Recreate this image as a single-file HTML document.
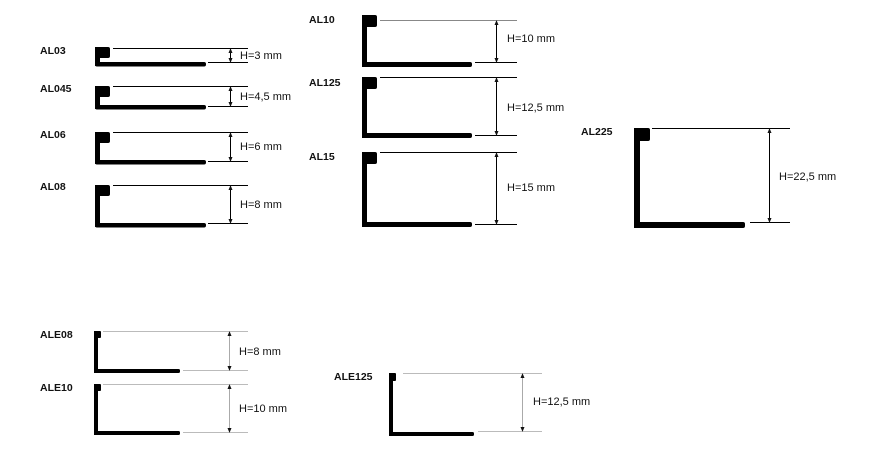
<!DOCTYPE html>
<html><head><meta charset="utf-8"><style>
html,body{margin:0;padding:0;background:#fff;width:873px;height:463px;overflow:hidden}
svg{display:block}
.n{font-family:"Liberation Sans",sans-serif;font-weight:bold;font-size:10.5px;fill:#111}
.l{font-family:"Liberation Sans",sans-serif;font-size:11px;fill:#111}
</style></head><body>
<svg width="873" height="463" viewBox="0 0 873 463" xmlns="http://www.w3.org/2000/svg">
<defs>
<marker id="a" viewBox="0 0 6 6" refX="5" refY="3" markerWidth="5" markerHeight="5" orient="auto-start-reverse"><path d="M0,0.5 L6,3 L0,5.5z" fill="#111"/></marker>
</defs>
<g fill="#000">
<rect x="95" y="47" width="15" height="11" rx="2"/><rect x="95" y="47" width="5" height="19"/><rect x="95" y="62" width="111" height="4.5" rx="2"/>
<rect x="95" y="86" width="15" height="11" rx="2"/><rect x="95" y="86" width="5" height="23"/><rect x="95" y="105" width="111" height="4.5" rx="2"/>
<rect x="95" y="132" width="15" height="11" rx="2"/><rect x="95" y="132" width="5" height="32"/><rect x="95" y="160" width="111" height="4.5" rx="2"/>
<rect x="95" y="185" width="15" height="11" rx="2"/><rect x="95" y="185" width="5" height="42"/><rect x="95" y="223" width="111" height="4.5" rx="2"/>
<rect x="362" y="15" width="15" height="12" rx="2"/><rect x="362" y="15" width="5" height="52"/><rect x="362" y="62" width="110" height="5" rx="2"/>
<rect x="362" y="77" width="15" height="12" rx="2"/><rect x="362" y="77" width="5" height="61"/><rect x="362" y="133" width="110" height="5" rx="2"/>
<rect x="362" y="152" width="15" height="12" rx="2"/><rect x="362" y="152" width="5" height="75"/><rect x="362" y="222" width="110" height="5" rx="2"/>
<rect x="634" y="128" width="16" height="13" rx="2"/><rect x="634" y="128" width="6" height="100"/><rect x="634" y="222" width="111" height="6" rx="2"/>
<rect x="94" y="331" width="7" height="7" rx="1"/><rect x="94" y="331" width="4" height="42"/><rect x="94" y="369" width="86" height="4" rx="1.5"/>
<rect x="94" y="384" width="7" height="7" rx="1"/><rect x="94" y="384" width="4" height="51"/><rect x="94" y="431" width="86" height="4" rx="1.5"/>
<rect x="389" y="373" width="7" height="8" rx="1"/><rect x="389" y="373" width="4" height="63"/><rect x="389" y="432" width="85" height="4" rx="1.5"/>
</g>
<g stroke="#000" stroke-width="1" fill="none">
<line x1="113" y1="48.5" x2="248" y2="48.5"/><line x1="208" y1="62.5" x2="248" y2="62.5"/>
<line x1="113" y1="86.5" x2="248" y2="86.5"/><line x1="208" y1="106.5" x2="248" y2="106.5"/>
<line x1="113" y1="132.5" x2="248" y2="132.5"/><line x1="208" y1="161.5" x2="248" y2="161.5"/>
<line x1="113" y1="185.5" x2="248" y2="185.5"/><line x1="208" y1="223.5" x2="248" y2="223.5"/>
<line x1="380" y1="20.5" x2="517" y2="20.5" stroke="#888"/><line x1="475" y1="62.5" x2="517" y2="62.5"/>
<line x1="380" y1="77.5" x2="517" y2="77.5"/><line x1="475" y1="135.5" x2="517" y2="135.5"/>
<line x1="380" y1="152.5" x2="517" y2="152.5"/><line x1="475" y1="224.5" x2="517" y2="224.5"/>
<line x1="652" y1="128.5" x2="790" y2="128.5"/><line x1="750" y1="222.5" x2="790" y2="222.5"/>
<g stroke="#bbb"><line x1="103" y1="331.5" x2="248" y2="331.5"/><line x1="183" y1="370.5" x2="248" y2="370.5"/>
<line x1="103" y1="384.5" x2="248" y2="384.5"/><line x1="183" y1="432.5" x2="248" y2="432.5"/>
<line x1="403" y1="373.5" x2="542" y2="373.5"/><line x1="478" y1="431.5" x2="542" y2="431.5"/></g>
<g marker-start="url(#a)" marker-end="url(#a)">
<line x1="230.5" y1="49" x2="230.5" y2="62"/>
<line x1="230.5" y1="87" x2="230.5" y2="106"/>
<line x1="230.5" y1="133" x2="230.5" y2="161"/>
<line x1="230.5" y1="186" x2="230.5" y2="223"/>
<line x1="496.5" y1="21" x2="496.5" y2="62"/>
<line x1="496.5" y1="78" x2="496.5" y2="135"/>
<line x1="496.5" y1="153" x2="496.5" y2="224"/>
<line x1="769.5" y1="129" x2="769.5" y2="222"/>
</g>
<g marker-start="url(#a)" marker-end="url(#a)" stroke="#aaa">
<line x1="229.5" y1="332" x2="229.5" y2="370"/>
<line x1="229.5" y1="385" x2="229.5" y2="432"/>
<line x1="522.5" y1="374" x2="522.5" y2="431"/>
</g>
</g>
<text class="n" x="40" y="54">AL03</text>
<text class="n" x="40" y="92">AL045</text>
<text class="n" x="40" y="138">AL06</text>
<text class="n" x="40" y="190">AL08</text>
<text class="n" x="309" y="23">AL10</text>
<text class="n" x="309" y="86">AL125</text>
<text class="n" x="309" y="160">AL15</text>
<text class="n" x="581" y="135">AL225</text>
<text class="n" x="40" y="338">ALE08</text>
<text class="n" x="40" y="391">ALE10</text>
<text class="n" x="334" y="380">ALE125</text>
<text class="l" x="240" y="59">H=3 mm</text>
<text class="l" x="240" y="100">H=4,5 mm</text>
<text class="l" x="240" y="150">H=6 mm</text>
<text class="l" x="240" y="208">H=8 mm</text>
<text class="l" x="507" y="42">H=10 mm</text>
<text class="l" x="507" y="111">H=12,5 mm</text>
<text class="l" x="507" y="191">H=15 mm</text>
<text class="l" x="779" y="180">H=22,5 mm</text>
<text class="l" x="239" y="355">H=8 mm</text>
<text class="l" x="239" y="412">H=10 mm</text>
<text class="l" x="533" y="405">H=12,5 mm</text>
</svg>
</body></html>
